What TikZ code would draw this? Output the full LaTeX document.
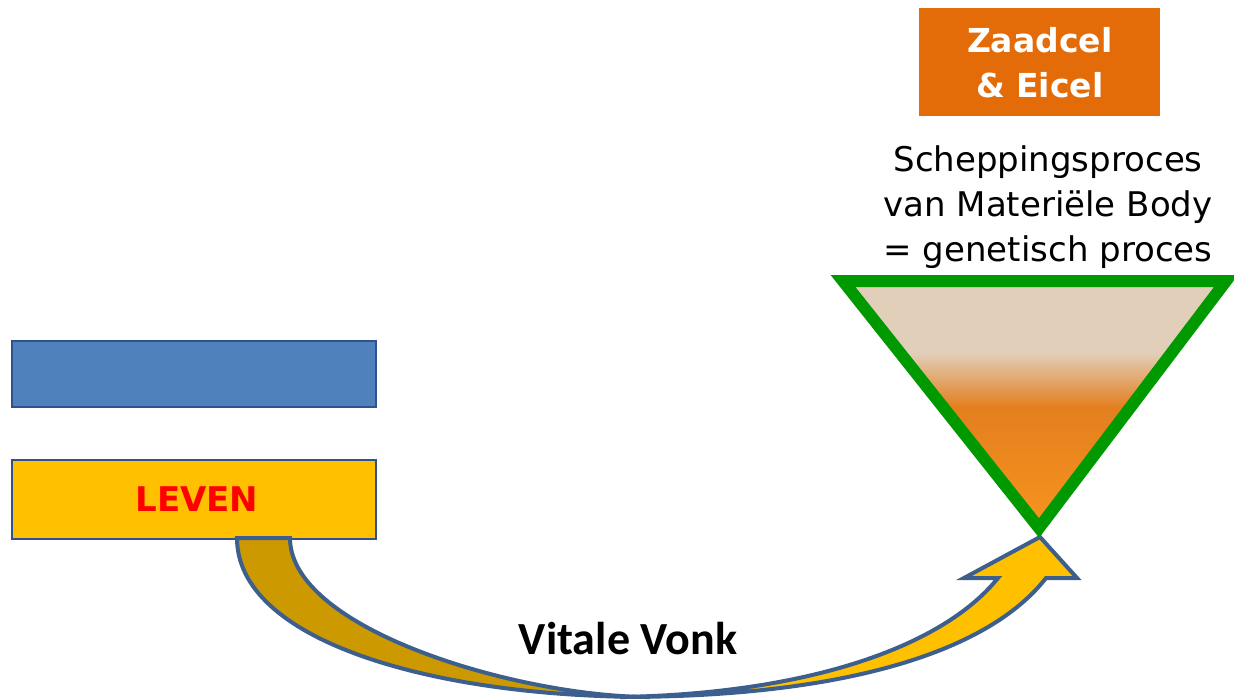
\documentclass[tikz,border=0pt]{standalone}
\usepackage{fontspec}
\setmainfont{DejaVu Sans}
\newfontfamily\calfont{Carlito}
\definecolor{boxorange}{HTML}{E36C09}
\definecolor{lblue}{HTML}{4F81BD}
\definecolor{lbluedraw}{HTML}{2F528F}
\definecolor{lyellow}{HTML}{FFC000}
\definecolor{darkgold}{HTML}{CC9A00}
\definecolor{arrowline}{HTML}{3C5F8E}
\definecolor{tgreen}{HTML}{009900}
\definecolor{tan}{HTML}{E1CFB9}
\definecolor{orA}{HTML}{E37F1E}
\definecolor{orB}{HTML}{F7941E}
\pgfdeclareverticalshading{funnel}{100bp}{color(0bp)=(orB); color(25bp)=(orB); color(49.5bp)=(orA); color(60.5bp)=(tan); color(100bp)=(tan)}
\begin{document}
\begin{tikzpicture}[x=1pt,y=-1pt,
  rectbox/.style={draw=lbluedraw,line width=2pt,minimum width=364pt,anchor=north west,inner sep=0pt},
  arrowpart/.style={draw=arrowline,line width=4pt,line join=miter}]
\useasboundingbox (0,0) rectangle (1234,699);
% orange box
\node[fill=boxorange,minimum width=241pt,minimum height=108pt,anchor=north west,inner sep=0pt,
  text=white,font=\fontsize{33}{45}\selectfont\bfseries,align=center] (zaad) at (919,8) {Zaadcel\\\& Eicel};
% description
\node[font=\fontsize{34}{45}\selectfont,align=center] (desc) at (1048,207) {Scheppingsproces\\van Materiële Body\\= genetisch proces};
% left boxes
\node[rectbox,fill=lblue,minimum height=66pt] (blue) at (11,340) {};
\node[rectbox,fill=lyellow,minimum height=79pt] (leven) at (11,459) {};
\node[text=red,font=\fontsize{34}{40}\selectfont\bfseries] (leventxt) at (197,499) {LEVEN};
% funnel triangle
\coordinate (tl) at (843,281);
\coordinate (tr) at (1226,281);
\coordinate (tb) at (1039,528);
\shade[shading=funnel] (tl) -- (tr) -- (tb) -- cycle;
% curved arrow
\coordinate (tailL) at (237,538);
\coordinate (tailR) at (290,538);
\coordinate (bot) at (650,697);
\coordinate (headL) at (998,578);
\coordinate (headR) at (1046,578);
\coordinate (barbL) at (964,578);
\coordinate (barbR) at (1077,578);
\coordinate (tip) at (1040,537);
\filldraw[arrowpart,fill=darkgold] (tailL) .. controls (237,640) and (430,697) .. (bot)
   .. controls (520,697) and (290,630) .. (tailR) -- cycle;
\filldraw[arrowpart,fill=lyellow] (620,697) .. controls (850,697) and (990,650) .. (headR)
   -- (barbR) -- (tip) -- (barbL) -- (headL)
   .. controls (940,650) and (800,694) .. (620,697) -- cycle;
\draw[tgreen,line width=12pt,line join=miter] (tl) -- (tr) -- (tb) -- cycle;
% label
\node[font=\fontsize{46}{50}\selectfont\calfont\bfseries] (vonk) at (628,639) {Vitale Vonk};
\end{tikzpicture}
\end{document}
